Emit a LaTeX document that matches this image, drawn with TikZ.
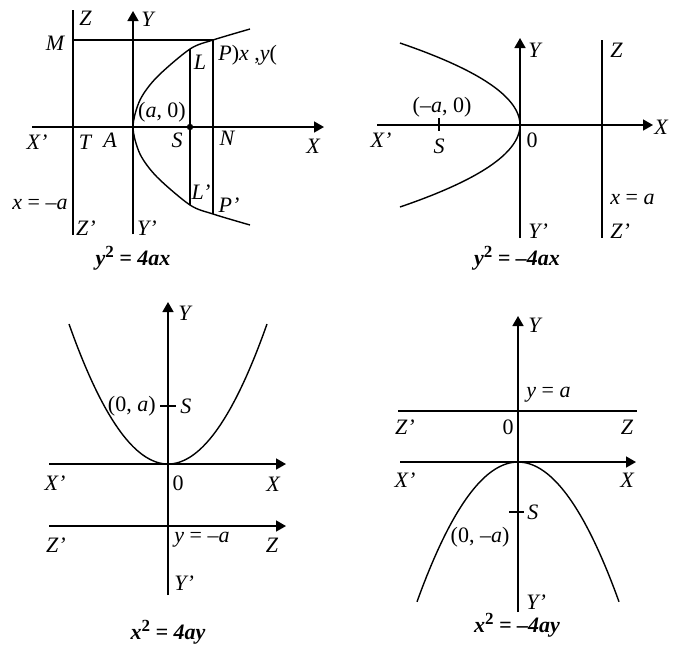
\documentclass[tikz,border=0pt]{standalone}
\usepackage{fontspec}
\setmainfont{Liberation Serif}
\usetikzlibrary{arrows.meta}
\newcommand{\sqtwo}{\raisebox{0.75ex}{\upshape\fontsize{8.5}{9}\selectfont 2}}

\begin{document}
\begin{tikzpicture}[x=0.5pt, y=-0.5pt,
    ax/.style={line width=0.8pt, -{Triangle[length=5pt,width=5.5pt]}},
    ln/.style={line width=0.8pt},
    crv/.style={line width=0.7pt},
    lbl/.style={font=\fontsize{11}{13}\selectfont\itshape, inner sep=1pt},
    num/.style={font=\fontsize{11}{13}\selectfont, inner sep=1pt},
    eqn/.style={font=\fontsize{11}{13}\selectfont\bfseries\itshape, inner sep=1pt},
]
\useasboundingbox (0,0) rectangle (678,645);

% y^2 = 4ax
\draw[ln] (73,10) -- (73,235);
\draw[ax] (133,234) -- (133,11);
\draw[ax] (32,127) -- (324,127);
\draw[ln] (73,40) -- (213,40) -- (213,214);
\draw[ln] (190,49) -- (190,205);
\draw[crv] plot[smooth] coordinates {(250,29) (213,40) (190,49) (157,77) (140,100) (133,127) (140,154) (157,177) (190,205) (213,214) (250,225)};
\fill (190,127) circle (1.6pt);
\node[lbl, anchor=west] (z1) at (77,18) {Z};
\node[lbl] (m1) at (55,43) {M};
\node[lbl, anchor=west] (y1) at (139,19) {Y};
\node[lbl] (l1) at (200,62) {L};
\node[num, anchor=west] (p1) at (216,55) {\textit{P})\textit{x} ,\textit{y}(};
\node[num] (f1) at (162,112) {(\textit{a}, 0)};
\node[lbl] (xp1) at (37,142) {X'};
\node[lbl] (t1) at (85,142) {T};
\node[lbl] (a1) at (110,140) {A};
\node[lbl] (s1) at (177,140) {S};
\node[lbl] (n1) at (227,138) {N};
\node[lbl] (x1) at (313,146) {X};
\node[num, anchor=east] (d1) at (70,204) {\textit{x} = –\textit{a}};
\node[lbl] (lp1) at (201,192) {L'};
\node[lbl] (pp1) at (229,205) {P'};
\node[lbl] (zp1) at (86,228) {Z'};
\node[lbl] (yp1) at (147,228) {Y'};
\node[eqn] (c1) at (133,258) {y\sqtwo{} = 4ax};

% y^2 = -4ax
\draw[ax] (520,238) -- (520,38);
\draw[ln] (602,40) -- (602,238);
\draw[ax] (377,125) -- (653,125);
\draw[ln] (439,118) -- (439,131);
\draw[crv] plot[domain=-82:82, samples=60, smooth, variable=\t] ({520-\t*\t/56},{125+\t});
\node[lbl, anchor=west] (y2) at (526,50) {Y};
\node[lbl, anchor=west] (z2) at (608,50) {Z};
\node[num] (f2) at (442,107) {(–\textit{a}, 0)};
\node[lbl] (xp2) at (381,140) {X'};
\node[lbl] (s2) at (439,146) {S};
\node[num] (o2) at (532,140) {0};
\node[lbl, anchor=west] (x2) at (652,127) {X};
\node[num, anchor=west] (d2) at (608,199) {\textit{x} = \textit{a}};
\node[lbl, anchor=west] (yp2) at (526,231) {Y'};
\node[lbl, anchor=west] (zp2) at (608,231) {Z'};
\node[eqn] (c2) at (517,258) {y\sqtwo{} = –4ax};

% x^2 = 4ay
\draw[ax] (168,595) -- (168,302);
\draw[ax] (49,464) -- (286,464);
\draw[ax] (49,526) -- (286,526);
\draw[ln] (160,406) -- (176,406);
\draw[crv] plot[domain=-99:99, samples=60, smooth, variable=\t] ({168+\t},{464-\t*\t/70});
\node[lbl, anchor=west] (y3) at (176,313) {Y};
\node[num, anchor=east] (f3) at (158,406) {(0, \textit{a})};
\node[lbl, anchor=west] (s3) at (178,406) {S};
\node[lbl] (xp3) at (55,483) {X'};
\node[num] (o3) at (178,483) {0};
\node[lbl] (x3) at (273,484) {X};
\node[lbl] (zp3) at (56,545) {Z'};
\node[num, anchor=west] (d3) at (172,540) {\textit{y} = –\textit{a}};
\node[lbl] (z3) at (272,545) {Z};
\node[lbl, anchor=west] (yp3) at (172,583) {Y'};
\node[eqn] (c3) at (168,632) {x\sqtwo{} = 4ay};

% x^2 = -4ay
\draw[ax] (518,612) -- (518,316);
\draw[ln] (398,411) -- (637,411);
\draw[ax] (400,462) -- (636,462);
\draw[ln] (509,512) -- (524,512);
\draw[crv] plot[domain=-101:101, samples=60, smooth, variable=\t] ({518+\t},{462+\t*\t/73});
\node[lbl, anchor=west] (y4) at (526,325) {Y};
\node[num, anchor=west] (d4) at (524,395) {\textit{y} = \textit{a}};
\node[lbl] (zp4) at (405,427) {Z'};
\node[num] (o4) at (508,427) {0};
\node[lbl] (z4) at (627,427) {Z};
\node[lbl] (xp4) at (405,480) {X'};
\node[lbl] (x4) at (627,480) {X};
\node[lbl, anchor=west] (s4) at (525,512) {S};
\node[num] (f4) at (480,537) {(0, –\textit{a})};
\node[lbl, anchor=west] (yp4) at (524,602) {Y'};
\node[eqn] (c4) at (517,625) {x\sqtwo{} = –4ay};
\end{tikzpicture}
\end{document}
